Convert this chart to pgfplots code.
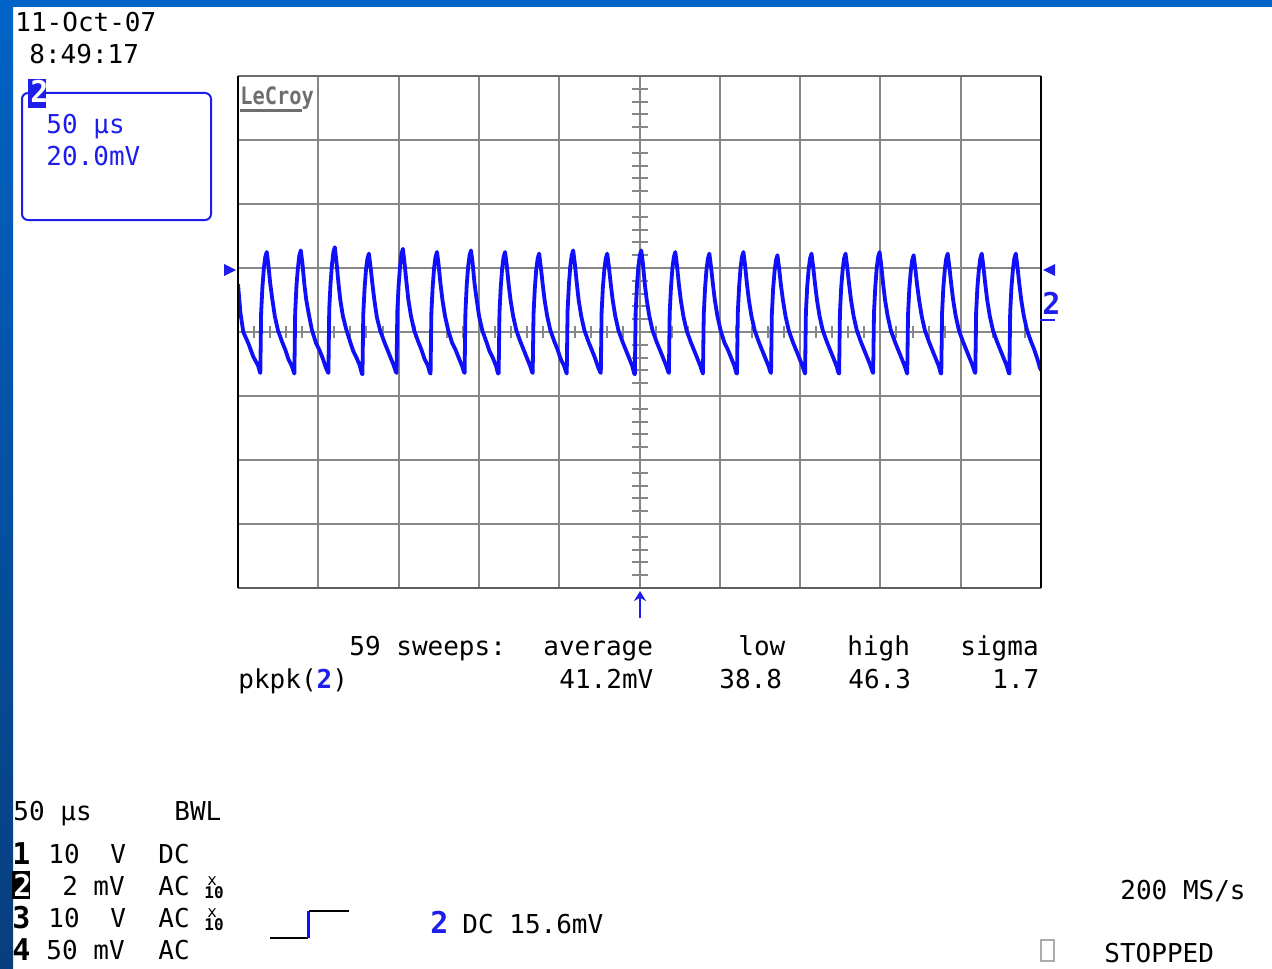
\documentclass[border=0pt]{standalone}
\usepackage{pgfplots}
\pgfplotsset{compat=1.18}
\usetikzlibrary{arrows.meta}
\usepackage{fontspec}
\setmainfont{DejaVu Sans Mono}
\definecolor{bgblue}{RGB}{0,99,198}
\definecolor{stripbot}{RGB}{8,62,125}
\definecolor{traceblue}{RGB}{15,15,250}
\definecolor{txtblue}{RGB}{30,30,235}
\definecolor{gridgray}{RGB}{135,135,135}
\definecolor{logogray}{RGB}{110,110,110}
\newcommand\scfont{\fontsize{13}{15}\selectfont}
\newcommand\chfont{\fontsize{15}{17}\selectfont\bfseries}

\begin{document}
\begin{tikzpicture}
% screen in pixel units (1272 x 968), y downwards
\begin{scope}[x=0.5pt,y=-0.5pt]
\path[use as bounding box] (0,0) rectangle (1272,968);
\fill[white] (0,0) rectangle (1272,968);
\fill[bgblue] (0,0) rectangle (1272,7);
\shade[top color=bgblue, bottom color=stripbot] (0,0) rectangle (13,968);
% centre graticule ticks
\foreach \j in {1,...,49} \draw[gridgray, line width=1pt] (238+16.06*\j,326) -- ++(0,12);
\foreach \j in {1,...,39} \draw[gridgray, line width=1pt] (632,76+12.8*\j) -- ++(16,0);
\end{scope}

\begin{axis}[
    at={(119pt,-294pt)}, anchor=south west,
    scale only axis, width=401.5pt, height=256pt,
    xmin=0, xmax=500, ymin=-80, ymax=80,
    xtick={0,50,...,500}, ytick={-80,-60,...,80},
    xticklabels={}, yticklabels={},
    major tick length=0pt,
    grid=major, grid style={draw=gridgray, line width=1pt},
    axis line style={draw=none},
    ]
\addplot[traceblue, line width=1.9pt, line join=round, no markers] coordinates {
(0,15) (1.5,6) (3.3,0) (6.4,-3.5) (9.5,-7.7) (12.5,-10.5) (13.6,-12.5)
(13.9,-12.8) (14.4,6) (15.2,14) (16.1,20) (17.0,23.5) (17.9,25) (18.9,21) (20.1,15) (21.3,10.5) (22.9,5) (24.9,0.5) (27.4,-3) (29.4,-5.5) (31.4,-8.5) (33.4,-10.5) (34.7,-12.5)
(35.1,-13) (35.6,6) (36.4,14.5) (37.3,20) (38.2,24) (39.1,25.5) (40.1,21.5) (41.3,15) (42.5,10) (44.1,5.5) (46.1,0.5) (48.6,-3.5) (50.6,-5.5) (52.6,-8) (54.6,-11) (55.9,-12.5)
(56.3,-12.8) (56.8,7) (57.6,15) (58.5,21) (59.4,25) (60.3,26.5) (61.3,22) (62.5,15.5) (63.7,10) (65.3,5) (67.3,1) (69.8,-3) (71.8,-6) (73.8,-8) (75.8,-10.5) (77.1,-13)
(77.5,-13.2) (78.0,5.5) (78.8,13.5) (79.7,19.5) (80.6,23) (81.5,24.5) (82.5,20.5) (83.7,15) (84.9,10) (86.5,4.5) (88.5,0.5) (91.0,-3) (93.0,-5.5) (95.0,-8) (97.0,-10.5) (98.3,-12.5)
(98.7,-12.8) (99.2,6.5) (100.0,14.5) (100.9,20.5) (101.8,24.5) (102.7,26) (103.7,21.5) (104.9,15.5) (106.1,10) (107.7,5) (109.7,0.5) (112.2,-3) (114.2,-5.5) (116.2,-8.5) (118.2,-10.5) (119.5,-12.8)
(119.9,-13) (120.4,6) (121.2,14) (122.1,20) (123.0,23.5) (123.9,25) (124.9,21) (126.1,15) (127.3,10) (128.9,5) (130.9,0.5) (133.4,-3.5) (135.4,-5.5) (137.4,-8) (139.4,-10.5) (140.7,-12.5)
(141.1,-12.8) (141.6,6) (142.4,14.5) (143.3,20.5) (144.2,24) (145.1,25.5) (146.1,21.5) (147.3,15) (148.5,10.5) (150.1,5) (152.1,0.5) (154.6,-3) (156.6,-6) (158.6,-8) (160.6,-10.5) (161.9,-13)
(162.3,-13) (162.8,6) (163.6,14) (164.5,20) (165.4,23.5) (166.3,25) (167.3,21) (168.5,15) (169.7,10) (171.3,5) (173.3,0.5) (175.8,-3) (177.8,-5.5) (179.8,-8) (181.8,-10.5) (183.1,-12.5)
(183.5,-12.8) (184.0,5.5) (184.8,13.5) (185.7,19.5) (186.6,23) (187.5,24.5) (188.5,20.5) (189.7,15) (190.9,10) (192.5,5) (194.5,0.5) (197.0,-3) (199.0,-5.5) (201.0,-8.5) (203.0,-10.5) (204.3,-12.5)
(204.7,-13) (205.2,6.5) (206.0,14.5) (206.9,20.5) (207.8,24) (208.7,25.5) (209.7,21.5) (210.9,15.5) (212.1,10) (213.7,5) (215.7,0.5) (218.2,-3) (220.2,-5.5) (222.2,-8) (224.2,-11) (225.5,-12.5)
(225.9,-12.8) (226.4,6) (227.2,14) (228.1,19.5) (229.0,23) (229.9,24.5) (230.9,20.5) (232.1,15) (233.3,10) (234.9,5) (236.9,0.5) (239.4,-3) (241.4,-5.5) (243.4,-8) (245.4,-10.5) (246.7,-13)
(247.1,-13.2) (247.6,6) (248.4,14.5) (249.3,20.5) (250.2,24) (251.1,25.5) (252.1,21.5) (253.3,15) (254.5,10) (256.1,5) (258.1,0.5) (260.6,-3) (262.6,-5.5) (264.6,-8) (266.6,-10.5) (267.9,-12.5)
(268.3,-12.8) (268.8,6) (269.6,14) (270.5,20) (271.4,23.5) (272.3,25) (273.3,21) (274.5,15) (275.7,10) (277.3,5) (279.3,0.5) (281.8,-3) (283.8,-5.5) (285.8,-8) (287.8,-10.5) (289.1,-12.5)
(289.5,-13) (290.0,5.5) (290.8,13.5) (291.7,19.5) (292.6,23) (293.5,24.5) (294.5,20.5) (295.7,15) (296.9,10) (298.5,5) (300.5,0.5) (303.0,-3.5) (305.0,-5.5) (307.0,-8) (309.0,-10.5) (310.3,-12.8)
(310.7,-13) (311.2,6) (312.0,14) (312.9,20) (313.8,23.5) (314.7,25) (315.7,21) (316.9,15) (318.1,10) (319.7,5) (321.7,0.5) (324.2,-3) (326.2,-5.5) (328.2,-8) (330.2,-10.5) (331.5,-12.5)
(331.9,-12.8) (332.4,5.5) (333.2,13.5) (334.1,19) (335.0,22.5) (335.9,24) (336.9,20) (338.1,14.5) (339.3,10) (340.9,5) (342.9,0.5) (345.4,-3) (347.4,-5.5) (349.4,-8) (351.4,-10.5) (352.7,-12.5)
(353.1,-13) (353.6,6) (354.4,14) (355.3,19.5) (356.2,23) (357.1,24.5) (358.1,20.5) (359.3,15) (360.5,10) (362.1,5) (364.1,0.5) (366.6,-3) (368.6,-5.5) (370.6,-8) (372.6,-10.5) (373.9,-12.8)
(374.3,-13) (374.8,6) (375.6,14) (376.5,19.5) (377.4,23) (378.3,24.5) (379.3,20.5) (380.5,15) (381.7,10) (383.3,5) (385.3,0.5) (387.8,-3) (389.8,-5.5) (391.8,-8) (393.8,-10.5) (395.1,-12.5)
(395.5,-12.8) (396.0,6) (396.8,14) (397.7,20) (398.6,23.5) (399.5,25) (400.5,21) (401.7,15) (402.9,10) (404.5,5) (406.5,0.5) (409.0,-3) (411.0,-5.5) (413.0,-8) (415.0,-10.5) (416.3,-12.5)
(416.7,-13) (417.2,5.5) (418.0,13.5) (418.9,19) (419.8,22.5) (420.7,24) (421.7,20) (422.9,14.5) (424.1,10) (425.7,5) (427.7,0.5) (430.2,-3) (432.2,-5.5) (434.2,-8) (436.2,-10.5) (437.5,-12.8)
(437.9,-13) (438.4,6) (439.2,14) (440.1,19.5) (441.0,23) (441.9,24.5) (442.9,20.5) (444.1,15) (445.3,10) (446.9,5) (448.9,0.5) (451.4,-3) (453.4,-5.5) (455.4,-8) (457.4,-10.5) (458.7,-12.5)
(459.1,-12.8) (459.6,6) (460.4,14) (461.3,19.5) (462.2,23) (463.1,24.5) (464.1,20.5) (465.3,15) (466.5,10) (468.1,5) (470.1,0.5) (472.6,-3) (474.6,-5.5) (476.6,-8) (478.6,-10.5) (479.9,-12.8)
(480.3,-13) (480.8,6) (481.6,14) (482.5,19.5) (483.4,23) (484.3,24.5) (485.3,20.5) (486.5,15) (487.7,10) (489.3,5) (491.3,0.5) (493.8,-3) (495.8,-5.5) (497.8,-8.5) (499.2,-11) (500.0,-12)
};
\end{axis}

\begin{scope}[x=0.5pt,y=-0.5pt, every node/.style={anchor=base west, inner sep=0pt, font=\scfont}]
% graticule border
\draw[gridgray!80!black, line width=1pt] (238,76) -- (1041,76);
\draw[gridgray!70!black, line width=1pt] (238,588) -- (1041,588);
\draw[black, line width=1pt] (238,76) -- (238,588);
\draw[black, line width=1pt] (1041,76) -- (1041,588);
% logo
\node[font=\fontsize{12}{13}\selectfont\bfseries, text=logogray, xscale=0.85] at (240,105) {LeCroy};
\draw[logogray, line width=1.5pt] (240,111) -- (302,111);
% channel markers
\fill[txtblue] (236,270) -- (224,264) -- (224,276) -- cycle;
\fill[txtblue] (1043,270) -- (1055,264) -- (1055,276) -- cycle;
\node[font=\chfont, text=txtblue] at (1042,314) {2};
\draw[txtblue, line width=1pt] (1040,320) -- (1055,320);
\draw[txtblue, line width=1pt, -{Stealth[length=5pt,width=6pt]}] (640,618) -- (640,591);
% date / time
\node at (15,32) {11-Oct-07};
\node at (29,64) {8:49:17};
% zoom trace box
\draw[txtblue, line width=1pt, rounded corners=3pt] (22,93) rectangle (211,220);
\fill[txtblue] (28,79) rectangle (46,108);
\node[font=\chfont, text=white] at (30,103) {2};
\node[text=txtblue] at (46,134) {50 µs};
\node[text=txtblue] at (46,166) {20.0mV};
% measurement
\node at (349,655) {59 sweeps:};
\node at (543,655) {average};
\node at (738,655) {low};
\node at (847,655) {high};
\node at (960,655) {sigma};
\node at (238,688) {pkpk(\textcolor{txtblue}{\bfseries 2})};
\node at (559,688) {41.2mV};
\node at (719,688) {38.8};
\node at (848,688) {46.3};
\node at (992,688) {1.7};
% bottom status
\node at (13,820) {50 µs};
\node at (174,820) {BWL};
\node[font=\chfont] at (12,864) {1};
\node at (48,863) {10};
\node at (110,863) {V};
\node at (158,863) {DC};
\fill[black] (12,871) rectangle (30,899);
\node[font=\chfont, text=white] at (13,896) {2};
\node at (62,895) {2};
\node at (93,895) {mV};
\node at (158,895) {AC};
\node[font=\fontsize{8}{8}\selectfont] at (207,885) {x};
\node[font=\fontsize{8}{8}\selectfont\bfseries] at (204,898) {10};
\node[font=\chfont] at (12,928) {3};
\node at (48,927) {10};
\node at (110,927) {V};
\node at (158,927) {AC};
\node[font=\fontsize{8}{8}\selectfont] at (207,917) {x};
\node[font=\fontsize{8}{8}\selectfont\bfseries] at (204,930) {10};
\node[font=\chfont] at (12,960) {4};
\node at (46,959) {50};
\node at (93,959) {mV};
\node at (158,959) {AC};
% trigger symbol
\draw[black, line width=1pt] (270,938) -- (308,938);
\draw[traceblue, line width=1.5pt] (308,938) -- (308,911);
\draw[black, line width=1pt] (309,911) -- (349,911);
\node[font=\chfont, text=txtblue] at (430,933) {2};
\node at (462,933) {DC 15.6mV};
\node at (1120,899) {200 MS/s};
\draw[gridgray!70, line width=0.6pt] (1041,940) rectangle (1054,961);
\node at (1104,962) {STOPPED};
\end{scope}
\end{tikzpicture}
\end{document}
